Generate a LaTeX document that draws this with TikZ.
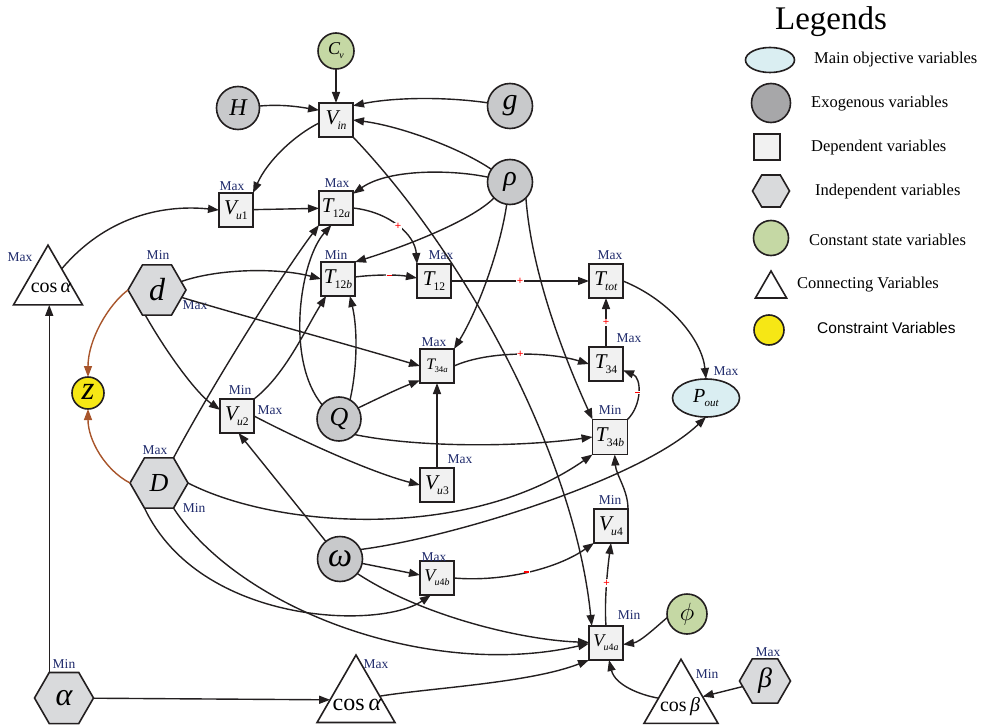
\documentclass[tikz,border=0pt]{standalone}
\usepackage{fontspec}
\usetikzlibrary{shapes.geometric,arrows.meta}
\newfontfamily\capfont{Liberation Serif}
\newfontfamily\plainsans{Liberation Sans}

\definecolor{ink}{HTML}{231F20}
\definecolor{exofill}{HTML}{C8C9CB}
\definecolor{exolegend}{HTML}{A7A7A9}
\definecolor{indfill}{HTML}{D9DADC}
\definecolor{depfill}{HTML}{F1F1F1}
\definecolor{cstfill}{HTML}{C5D8A4}
\definecolor{limfill}{HTML}{F6E715}
\definecolor{objfill}{HTML}{DAEEF2}
\definecolor{boundcol}{HTML}{1F2A6B}
\definecolor{rustcol}{HTML}{A8552B}

\newcommand{\setfs}[1]{\fontsize{#1}{#1}\selectfont}
% italic variable name, optionally with a small lowered index
\newcommand{\vi}[1]{{\capfont\itshape #1}}
\newcommand{\vsub}[2]{\vi{#1}\kern-0.04em\raisebox{-0.22em}{\scalebox{0.55}{\capfont #2}}}
\newcommand{\redminus}{\rule[-0.65pt]{5pt}{1.3pt}}

\tikzset{
  shp/.style={draw=ink, line width=1.6pt, inner sep=0pt, outer sep=0pt},
  depbox/.style={shp, rectangle, fill=depfill, minimum width=34pt, minimum height=34pt, font=\setfs{21}},
  exonode/.style={shp, circle, fill=exofill, minimum size=44pt, font=\setfs{24}},
  cstnode/.style={shp, circle, fill=cstfill},
  limnode/.style={shp, circle, fill=limfill},
  objnode/.style={shp, ellipse, fill=objfill},
  indnode/.style={shp, regular polygon, regular polygon sides=6, fill=indfill, minimum size=58pt},
  connode/.style={shp, regular polygon, regular polygon sides=3, fill=white},
  bound/.style={text=boundcol, font=\capfont\setfs{13.5}, inner sep=0pt},
  sgn/.style={text=red, font=\plainsans\setfs{11}, inner sep=0.6pt, fill=white},
  arr/.style={draw=ink, line width=1.4pt, -{Triangle[length=11pt,width=8pt]}},
  rustarr/.style={draw=rustcol, line width=1.4pt, -{Triangle[length=11pt,width=8pt]}},
  legtext/.style={anchor=west, inner sep=0pt, font=\capfont\setfs{16.5}},
}

\begin{document}
\begin{tikzpicture}[x=1pt,y=-1pt]
\useasboundingbox (0,0) rectangle (987,727);

% ---------- variables ----------
\node[cstnode, minimum size=36pt, font=\setfs{18}] (Cv) at (336,51) {\vsub{C}{\textit{v}}};
\node[exonode, minimum size=43pt] (H) at (238,108) {\vi{H}};
\node[exonode, minimum size=45pt, font=\setfs{30}] (g) at (510,106) {\vi{g}};
\node[exonode, minimum size=45pt, font=\setfs{28}] (rho) at (510,182) {\vi{ρ}};
\node[exonode, minimum size=44pt, font=\setfs{26}] (Q) at (339,419) {\vi{Q}};
\node[exonode, minimum size=45pt, font=\setfs{34}] (omega) at (340,559) {\vi{ω}};
\node[cstnode, minimum size=40pt, font=\setfs{24}] (phi) at (687,614) {$\phi$};
\node[limnode, minimum size=32pt, font=\setfs{33}] (z) at (88,393) {\raisebox{0.08em}{\vi{z}}};

\node[depbox] (Vin) at (336,120) {\vsub{V}{\textit{in}}};
\node[depbox] (Vu1) at (236,210) {\vsub{V}{\textit{u}1}};
\node[depbox] (T12a) at (336,208) {\vsub{T}{12\textit{a}}};
\node[depbox] (T12b) at (338,279) {\vsub{T}{12\textit{b}}};
\node[depbox] (T12) at (434,281) {\vsub{T}{12}};
\node[depbox] (Ttot) at (606,281) {\vsub{T}{\textit{tot}}};
\node[depbox, font=\setfs{16}] (T34a) at (437,366) {\vsub{T}{34\textit{a}}};
\node[depbox] (T34) at (606,364) {\vsub{T}{34}};
\node[depbox, minimum width=35pt, minimum height=35pt] (T34b) at (610,437) {\vsub{T}{34\textit{b}}};
\node[depbox] (Vu2) at (237,416) {\vsub{V}{\textit{u}2}};
\node[depbox] (Vu3) at (437,485) {\vsub{V}{\textit{u}3}};
\node[depbox] (Vu4) at (611,526) {\vsub{V}{\textit{u}4}};
\node[depbox, font=\setfs{18}] (Vu4b) at (437,578) {\vsub{V}{\textit{u}4\textit{b}}};
\node[depbox, font=\setfs{18}] (Vu4a) at (606,643) {\vsub{V}{\textit{u}4\textit{a}}};

\node[objnode, minimum width=67pt, minimum height=38pt, font=\setfs{20}] (Pout) at (706,398) {\vsub{P}{\textit{out}}};

\node[indnode, font=\setfs{32}] (d) at (157,290) {\vi{d}};
\node[indnode, font=\setfs{26}] (D) at (159,483) {\vi{D}};
\node[indnode, minimum size=59pt, font=\setfs{32}] (alpha) at (64,698) {\vi{α}};
\node[indnode, minimum size=51pt, font=\setfs{28}] (beta) at (765,681) {\vi{β}};

\node[connode, minimum size=79.7pt] (cosaT) at (48,285) {};
\node[font=\capfont\setfs{20}, inner sep=0pt] (cosaTt) at (51,288) {cos\,\vi{α}};
\node[connode, minimum size=90pt] (cosaB) at (356,700) {};
\node[font=\capfont\setfs{24}, inner sep=0pt] (cosaBt) at (357,705) {cos\,\vi{α}};
\node[connode, minimum size=85.5pt] (cosb) at (681,702) {};
\node[font=\capfont\setfs{20}, inner sep=0pt] (cosbt) at (680,707) {cos\,\vi{β}};

% ---------- bounds ----------
\node[bound] (bVu1) at (232,186) {Max};
\node[bound] (bT12a) at (337,183) {Max};
\node[bound] (bcosaT) at (20,257) {Max};
\node[bound] (bdmin) at (158,255) {Min};
\node[bound] (bdmax) at (195,305) {Max};
\node[bound] (bT12b) at (336,255) {Min};
\node[bound] (bT12) at (441,255) {Max};
\node[bound] (bTtot) at (610,255) {Max};
\node[bound] (bT34a) at (434,342) {Max};
\node[bound] (bT34) at (629,338) {Max};
\node[bound] (bT34b) at (610,410) {Min};
\node[bound] (bPout) at (726,371) {Max};
\node[bound] (bVu2min) at (240,390) {Min};
\node[bound] (bVu2max) at (270,410) {Max};
\node[bound] (bVu3) at (460,459) {Max};
\node[bound] (bDmax) at (155,450) {Max};
\node[bound] (bDmin) at (194,508) {Min};
\node[bound] (bVu4) at (610,500) {Min};
\node[bound] (bVu4b) at (434,557) {Max};
\node[bound] (bVu4a) at (629,615) {Min};
\node[bound] (bcosaB) at (376,664) {Max};
\node[bound] (balpha) at (64,664) {Min};
\node[bound] (bcosb) at (707,674) {Min};
\node[bound] (bbeta) at (768,652) {Max};

% ---------- influences ----------
\draw[arr] (Cv) -- (Vin);
\draw[arr] (H) .. controls (282,104) and (300,107) .. (Vin.150);
\draw[arr] (g) .. controls (440,96) and (390,98) .. (Vin.40);
\draw[arr] (rho) .. controls (460,148) and (400,126) .. (Vin.east);
\draw[arr] (Vin.190) .. controls (295,135) and (268,160) .. (Vu1.north east);
\draw[arr] (Vin.south east) .. controls (470,260) and (575,460) .. (Vu4a.130);

\draw[arr] (rho) .. controls (455,170) and (390,168) .. (T12a.40);
\draw[arr] (rho) .. controls (470,222) and (400,248) .. (T12b.north east);
\draw[arr] (rho) .. controls (500,250) and (478,310) .. (T34a.north east);
\draw[arr] (rho.-45) .. controls (532,280) and (570,370) .. (T34b.north west);

\draw[arr] (Vu1) -- (T12a);
\draw[arr] (cosaT) .. controls (110,212) and (170,205) .. (Vu1.west);
\draw[arr] (alpha.120) -- (alpha.120 |- cosaT.south);
\draw[arr] (alpha) -- (cosaB);

\draw[arr] (d) .. controls (220,268) and (280,268) .. (T12b.west);
\draw[arr] (d) .. controls (250,318) and (350,345) .. (T34a.west);
\draw[arr] (d.245) .. controls (165,350) and (195,392) .. (Vu2.160);
\draw[rustarr] (d.west) .. controls (108,305) and (88,340) .. (z);
\draw[rustarr] (D.west) .. controls (105,470) and (88,440) .. (z);

\draw[arr] (D.60) .. controls (215,380) and (285,270) .. (T12a.south west);
\draw[arr] (Q.140) .. controls (285,360) and (300,260) .. (T12a.-105);
\draw[arr] (Q.60) .. controls (357,370) and (358,330) .. (T12b.-55);
\draw[arr] (Vu2.north east) .. controls (285,375) and (305,330) .. (T12b.-125);
\draw[arr] (Q.30) .. controls (385,395) and (400,388) .. (T34a.-140);
\draw[arr] (Q.-45) .. controls (420,448) and (520,447) .. (T34b.west);

\draw[arr] (Vu2.east) .. controls (300,440) and (370,472) .. (Vu3.west);
\draw[arr] (Vu3) -- (T34a);
\draw[arr] (D.east) .. controls (280,530) and (470,540) .. (T34b.-135);

\draw[arr] (omega) -- (Vu2.-85);
\draw[arr] (omega) -- (Vu4b.170);
\draw[arr] (omega.-40) .. controls (420,615) and (520,640) .. (Vu4a.178);
\draw[arr] (omega.25) .. controls (450,538) and (640,480) .. (Pout.south);
\draw[arr] (D.-120) .. controls (200,625) and (380,630) .. (Vu4b.-110);
\draw[arr] (D.-60) .. controls (240,610) and (430,680) .. (Vu4a.-178);

\draw[arr] (cosaB) .. controls (430,688) and (530,683) .. (Vu4a.south west);
\draw[arr] (cosb) .. controls (640,695) and (615,685) .. (Vu4a.-80);
\draw[arr] (beta) -- (cosb);
\draw[arr] (phi.190) .. controls (655,628) and (640,642) .. (Vu4a.-5);

% ---------- aggregations with signs ----------
\draw[arr] (T12a.east) .. controls (390,212) and (415,235) .. node[sgn, pos=0.5] (s1) {+} (T12.north west);
\draw[arr] (T12b) .. controls (380,274) and (400,275) .. node[sgn, pos=0.5] (s2) {\redminus} (T12);
\draw[arr] (T12) -- node[sgn] (s3) {+} (Ttot);
\draw[arr] (T34) -- node[sgn] (s4) {+} (Ttot);
\draw[arr] (T34a.east) .. controls (490,350) and (550,352) .. node[sgn, pos=0.5] (s5) {+} (T34.west);
\draw[arr] (T34b.north east) .. controls (642,405) and (642,378) .. node[sgn, pos=0.5] (s6) {\redminus} (T34.-20);
\draw[arr] (Vu4b.east) .. controls (500,582) and (555,570) .. node[sgn, pos=0.5] (s7) {\redminus} (Vu4.-135);
\draw[arr] (Vu4a.north) .. controls (604,600) and (608,565) .. node[sgn, pos=0.5] (s8) {+} (Vu4.south);
\draw[arr] (Vu4.north east) .. controls (628,490) and (616,475) .. (T34b.-75);
\draw[arr] (Ttot.east) .. controls (670,300) and (702,340) .. (Pout.north);

% ---------- legend ----------
\node[font=\capfont\setfs{33}, inner sep=0pt] (legtitle) at (831,22) {Legends};
\node[objnode, minimum width=49pt, minimum height=25pt] (lg1) at (770,60) {};
\node[shp, circle, fill=exolegend, minimum size=39pt] (lg2) at (771,103) {};
\node[shp, rectangle, fill=depfill, minimum size=26pt] (lg3) at (767,147) {};
\node[indnode, minimum size=37pt] (lg4) at (771,191) {};
\node[cstnode, minimum size=35pt] (lg5) at (771,238) {};
\node[connode, minimum size=36pt] (lg6) at (771,289) {};
\node[limnode, minimum size=30pt] (lg7) at (769,330) {};
\node[legtext] (lt1) at (814,60) {Main objective variables};
\node[legtext] (lt2) at (811,104) {Exogenous variables};
\node[legtext] (lt3) at (811,148) {Dependent variables};
\node[legtext] (lt4) at (815,192) {Independent variables};
\node[legtext] (lt5) at (809,240) {Constant state variables};
\node[legtext] (lt6) at (797,285) {Connecting Variables};
\node[legtext, font=\plainsans\setfs{15.5}] (lt7) at (817,328) {Constraint Variables};
\end{tikzpicture}
\end{document}
